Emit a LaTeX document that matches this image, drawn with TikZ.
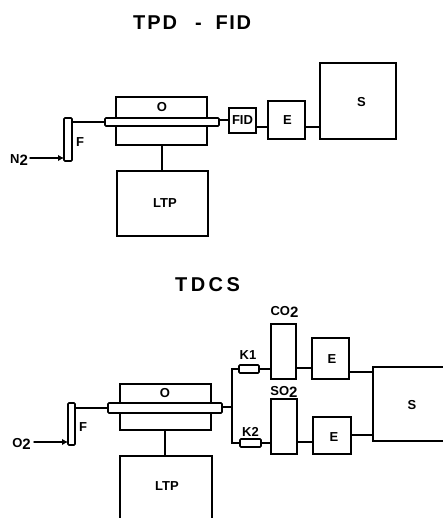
\documentclass[tikz,border=0pt]{standalone}
\usepackage{fontspec}
\setmainfont{Liberation Sans}
\usetikzlibrary{arrows.meta}
\tikzset{
  ln/.style={line width=1.5pt,line cap=round},
  bx/.style={draw,line width=1.7pt,inner sep=0pt,outer sep=0pt,font=\fontsize{13}{15}\selectfont\bfseries},
  tube/.style={bx,rounded corners=1pt},
  lbl/.style={inner sep=0pt,font=\fontsize{13}{15}\selectfont\bfseries},
  ttl/.style={inner sep=0pt,font=\fontsize{20}{22}\selectfont\bfseries},
  flow/.style={ln,-{Latex[length=6pt,width=6.5pt]}}
}
\newcommand{\bxn}[7][bx]{%
  \pgfmathsetmacro{\cxx}{(#3+#5)/2}\pgfmathsetmacro{\cyy}{(#4+#6)/2}%
  \pgfmathsetmacro{\ww}{#5-#3}\pgfmathsetmacro{\hh}{#6-#4}%
  \node[#1,minimum width=\ww pt,minimum height=\hh pt] (#2) at (\cxx,\cyy) {#7};}
\newcommand{\sub}[2]{#1\raisebox{-0.4ex}{\fontsize{15}{16}\selectfont #2}}
\begin{document}
\begin{tikzpicture}[x=1pt,y=-1pt]
\useasboundingbox (0,0) rectangle (443,518);
\clip (0,0) rectangle (443,518);
% top diagram
\node[ttl] (t1) at (192,23) {T\hspace{2pt}P\hspace{2pt}D\hspace{18pt}-\hspace{14pt}F\hspace{1.5pt}I\hspace{1.5pt}D};
\bxn{o1}{116}{97}{207}{145}{}
\node[lbl] (ol1) at (162,107.5) {O};
\bxn[tube,fill=white]{tb1}{105}{118}{219}{126}{}
\bxn[tube]{f1}{64}{118}{72}{161}{}
\node[lbl] (fl1) at (80,142.5) {F};
\node[lbl] (n2) at (19,160) {\sub{N}{2}};
\coordinate (a1) at (30,158);
\draw[flow] (a1) -- (a1 -| f1.west);
\bxn{ltp1}{117}{171}{208}{236}{}
\node[lbl] (ltpl1) at (165,203) {LTP};
\bxn{fid}{229}{108}{256}{133}{FID}
\bxn{e1}{268}{101}{305}{139}{}
\node[lbl] (el1) at (287.5,120.5) {E};
\bxn{s1}{320}{63}{396}{139}{}
\node[lbl] (sl1) at (361.5,102) {S};
\draw[ln] (f1.east |- 0,122) -- (tb1.west |- 0,122);
\draw[ln] (tb1.east |- 0,120) -- (fid.west |- 0,120);
\draw[ln] (fid.east |- 0,127) -- (e1.west |- 0,127);
\draw[ln] (e1.east |- 0,127) -- (s1.west |- 0,127);
\draw[ln] (162,145) -- (162,171);
% bottom diagram
\node[ttl] (t2) at (207.5,285) {T\hspace{3.5pt}D\hspace{3.5pt}C\hspace{3.5pt}S};
\bxn{o2}{120}{384}{211}{430}{}
\node[lbl] (ol2) at (165,393) {O};
\bxn[tube,fill=white]{tb2}{108}{403}{222}{413}{}
\bxn[tube]{f2}{68}{403}{75}{445}{}
\node[lbl] (fl2) at (83,427) {F};
\node[lbl] (o2l) at (21.5,444) {\sub{O}{2}};
\coordinate (a2) at (34,442);
\draw[flow] (a2) -- (a2 -| f2.west);
\bxn{ltp2}{120}{456}{212}{540}{}
\node[lbl] (ltpl2) at (167,486) {LTP};
\bxn[tube]{k1}{239}{365}{259}{373}{}
\bxn[tube]{k2}{240}{439}{261}{447}{}
\node[lbl] (kl1) at (248,355.5) {K1};
\node[lbl] (kl2) at (250.5,431.5) {K2};
\bxn{co}{271}{324}{296}{379}{}
\bxn{so}{271}{399}{297}{454}{}
\node[lbl] (col) at (284.5,312) {\sub{CO}{2}};
\node[lbl] (sol) at (284,392) {\sub{SO}{2}};
\bxn{e2}{312}{338}{349}{379}{}
\node[lbl] (el2) at (332,359.5) {E};
\bxn{e3}{313}{417}{351}{454}{}
\node[lbl] (el3) at (334,437) {E};
\bxn{s2}{373}{367}{470}{441}{}
\node[lbl] (sl2) at (412,405.5) {S};
\coordinate (j) at (232,407);
\draw[ln] (f2.east |- 0,408) -- (tb2.west |- 0,408);
\draw[ln] (tb2.east |- j) -- (j);
\draw[ln] (k1.west |- 0,369) -| (j) |- (k2.west |- 0,443);
\draw[ln] (k1.east |- 0,369) -- (co.west |- 0,369);
\draw[ln] (k2.east |- 0,443) -- (so.west |- 0,443);
\draw[ln] (co.east |- 0,368) -- (e2.west |- 0,368);
\draw[ln] (so.east |- 0,442) -- (e3.west |- 0,442);
\draw[ln] (e2.east |- 0,372) -- (s2.west |- 0,372);
\draw[ln] (e3.east |- 0,435) -- (s2.west |- 0,435);
\draw[ln] (165,430) -- (165,456);
\end{tikzpicture}
\end{document}
